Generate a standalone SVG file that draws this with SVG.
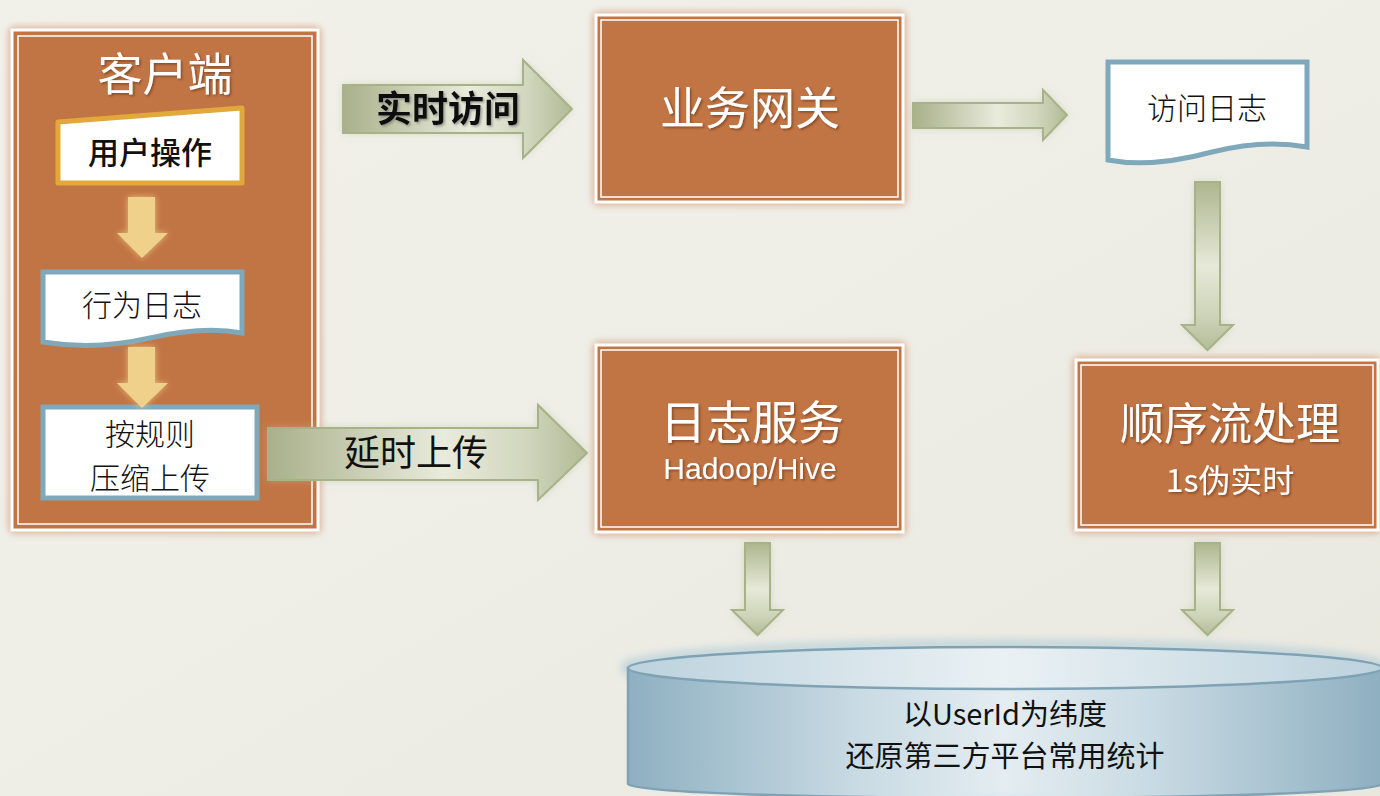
<svg xmlns="http://www.w3.org/2000/svg" width="1380" height="796" viewBox="0 0 1380 796">
<style>
.cjk{font-family:"Noto Sans CJK SC","Noto Sans",sans-serif;}
.wt{fill:#ffffff;text-anchor:middle;}
.bk{fill:#111111;text-anchor:middle;}
.obox{fill:#C27544;stroke:#ffffff;stroke-width:3;}
.oin{fill:none;stroke:#ffffff;stroke-width:1.5;}
.oglow{fill:none;stroke:#D9A285;stroke-width:8;opacity:0.7;}
.garrow{stroke:#A7B288;stroke-width:2;stroke-linejoin:miter;}
.yarrow{fill:#EFD18C;}
.doc{fill:#ffffff;stroke:#7FA9BA;stroke-width:5;}
</style>
<defs>
<linearGradient id="bg" x1="0" y1="0" x2="1" y2="1">
<stop offset="0" stop-color="#F1F1EA"/>
<stop offset="0.5" stop-color="#EEEEE6"/>
<stop offset="1" stop-color="#E8E8DF"/>
</linearGradient>
<linearGradient id="gH" x1="0" y1="0" x2="1" y2="0">
<stop offset="0" stop-color="#A9B08A"/>
<stop offset="0.55" stop-color="#E9EBDC"/>
<stop offset="0.8" stop-color="#D2D7BE"/>
<stop offset="1" stop-color="#B2BA96"/>
</linearGradient>
<linearGradient id="gV" x1="0" y1="0" x2="0" y2="1">
<stop offset="0" stop-color="#AEB68E"/>
<stop offset="0.5" stop-color="#E6E9D8"/>
<stop offset="0.8" stop-color="#CDD3B8"/>
<stop offset="1" stop-color="#B4BC98"/>
</linearGradient>
<linearGradient id="cylBody" x1="0" y1="0" x2="1" y2="0">
<stop offset="0" stop-color="#8EB0C1"/>
<stop offset="0.3" stop-color="#C8DAE3"/>
<stop offset="0.5" stop-color="#E4EDF1"/>
<stop offset="0.7" stop-color="#C8DAE3"/>
<stop offset="1" stop-color="#8EAFC0"/>
</linearGradient>
<linearGradient id="cylTop" x1="0" y1="0" x2="1" y2="0">
<stop offset="0" stop-color="#BCD2DD"/>
<stop offset="0.5" stop-color="#EAF1F4"/>
<stop offset="1" stop-color="#BCD2DD"/>
</linearGradient>
<radialGradient id="cylSpot" cx="0.5" cy="1" r="0.5">
<stop offset="0" stop-color="#A5D3EA" stop-opacity="0.9"/>
<stop offset="1" stop-color="#A5D3EA" stop-opacity="0"/>
</radialGradient>
<filter id="blur4" x="-20%" y="-20%" width="140%" height="140%"><feGaussianBlur stdDeviation="4"/></filter>
<filter id="blur3" x="-30%" y="-30%" width="160%" height="160%"><feGaussianBlur stdDeviation="3"/></filter>
<filter id="shW" x="-10%" y="-20%" width="120%" height="150%"><feDropShadow dx="1.5" dy="1.5" stdDeviation="1" flood-color="#5a2e10" flood-opacity="0.6"/></filter>
<filter id="shK" x="-10%" y="-20%" width="120%" height="150%"><feDropShadow dx="1.5" dy="1.5" stdDeviation="1" flood-color="#666" flood-opacity="0.6"/></filter>
</defs>

<rect x="0" y="0" width="1380" height="796" fill="url(#bg)"/>

<g id="client">
<rect class="oglow" x="12" y="30" width="306" height="500" rx="3" filter="url(#blur3)"/>
<rect class="obox" x="12" y="30" width="306" height="500"/>
<rect class="oin" x="18" y="36" width="294" height="488"/>
<text class="cjk wt" x="165" y="91" font-size="45" filter="url(#shW)">客户端</text>
</g>

<g id="user-op">
<path d="M58,122 L242,108 V183 H58 Z" fill="#ffffff" stroke="#E3A83A" stroke-width="5" stroke-linejoin="round"/>
<text class="cjk bk" x="150" y="164" font-size="31" font-weight="500">用户操作</text>
</g>

<g id="behavior-log">
<path class="doc" d="M43,272 H242 V333 C215,328 185,330 150,338 C115,346 80,348 43,342 Z"/>
<text class="cjk bk" x="142" y="316" font-size="30" font-weight="300">行为日志</text>
</g>

<g id="compress-upload">
<rect class="doc" x="43" y="407" width="214" height="91"/>
<text class="cjk bk" x="150" y="445" font-size="30" font-weight="300">按规则</text>
<text class="cjk bk" x="150" y="489" font-size="30" font-weight="300">压缩上传</text>
</g>

<g id="gateway">
<rect class="oglow" x="596" y="15" width="307" height="187" rx="3" filter="url(#blur3)"/>
<rect class="obox" x="596" y="15" width="307" height="187"/>
<rect class="oin" x="601" y="20" width="297" height="177"/>
<text class="cjk wt" x="750" y="125" font-size="45" filter="url(#shW)">业务网关</text>
</g>

<g id="access-log">
<path class="doc" d="M1108,62 H1307 V147 C1280,142 1248,143 1212,152 C1175,162 1140,166 1108,160 Z"/>
<text class="cjk bk" x="1207" y="119" font-size="30" font-weight="300">访问日志</text>
</g>

<g id="log-service">
<rect class="oglow" x="596" y="345" width="307" height="187" rx="3" filter="url(#blur3)"/>
<rect class="obox" x="596" y="345" width="307" height="187"/>
<rect class="oin" x="601" y="350" width="297" height="177"/>
<text class="cjk wt" x="752" y="439" font-size="46" filter="url(#shW)">日志服务</text>
<text class="wt" x="750" y="479" font-size="30" font-family="'Liberation Sans','Noto Sans',sans-serif" filter="url(#shW)">Hadoop/Hive</text>
</g>

<g id="stream-process">
<rect class="oglow" x="1076" y="360" width="302" height="170" rx="3" filter="url(#blur3)"/>
<rect class="obox" x="1076" y="360" width="302" height="170"/>
<rect class="oin" x="1081" y="365" width="292" height="160"/>
<text class="cjk wt" x="1230" y="440" font-size="44" filter="url(#shW)">顺序流处理</text>
<text class="cjk wt" x="1230" y="492" font-size="32" filter="url(#shW)">1s伪实时</text>
</g>

<g id="database">
<ellipse cx="1005" cy="668" rx="380" ry="24" fill="none" stroke="#9CC0D2" stroke-width="8" opacity="0.6" filter="url(#blur4)"/>
<path d="M628,668 V784 A377,14 0 0 0 1382,784 V668 Z" fill="url(#cylBody)" stroke="#7FA3B5" stroke-width="2.5"/>
<ellipse cx="1005" cy="790" rx="140" ry="50" fill="url(#cylSpot)"/>
<ellipse cx="1005" cy="668" rx="377" ry="21" fill="url(#cylTop)" stroke="#7FA3B5" stroke-width="2.5"/>
<text class="cjk bk" x="1005" y="725" font-size="29">以UserId为纬度</text>
<text class="cjk bk" x="1005" y="767" font-size="29">还原第三方平台常用统计</text>
</g>

<g id="connectors">
<g filter="url(#blur3)" opacity="0.8">
<path class="yarrow" d="M128,197 H155 V233 H168 L142,258 L117,233 H128 Z"/>
<path class="yarrow" d="M128,347 H155 V383 H168 L142,408 L117,383 H128 Z"/>
</g>
<path class="yarrow" d="M128,197 H155 V233 H168 L142,258 L117,233 H128 Z"/>
<path class="yarrow" d="M128,347 H155 V383 H168 L142,408 L117,383 H128 Z"/>
<g filter="url(#blur4)" opacity="0.55" fill="#B9C19C">
<path d="M343,85 H523 V60 L572,109 L523,158 V133 H343 Z"/>
<path d="M268,428 H538 V405 L587,453 L538,500 V480 H268 Z"/>
<path d="M913,103 H1043 V90 L1067,115 L1043,140 V128 H913 Z"/>
<path d="M1195,182 H1220 V325 H1233 L1207.5,350 L1182,325 H1195 Z"/>
<path d="M745,543 H770 V610 H783 L757.5,635 L732,610 H745 Z"/>
<path d="M1195,543 H1220 V610 H1233 L1207.5,635 L1182,610 H1195 Z"/>
</g>
<path class="garrow" fill="url(#gH)" d="M343,85 H523 V60 L572,109 L523,158 V133 H343 Z"/>
<path class="garrow" fill="url(#gH)" d="M268,428 H538 V405 L587,453 L538,500 V480 H268 Z"/>
<path class="garrow" fill="url(#gH)" d="M913,103 H1043 V90 L1067,115 L1043,140 V128 H913 Z"/>
<path class="garrow" fill="url(#gV)" d="M1195,182 H1220 V325 H1233 L1207.5,350 L1182,325 H1195 Z"/>
<path class="garrow" fill="url(#gV)" d="M745,543 H770 V610 H783 L757.5,635 L732,610 H745 Z"/>
<path class="garrow" fill="url(#gV)" d="M1195,543 H1220 V610 H1233 L1207.5,635 L1182,610 H1195 Z"/>
<text class="cjk bk" x="448" y="122" font-size="36" font-weight="bold" filter="url(#shK)">实时访问</text>
<text class="cjk bk" x="416" y="466" font-size="36">延时上传</text>
</g>
</svg>
